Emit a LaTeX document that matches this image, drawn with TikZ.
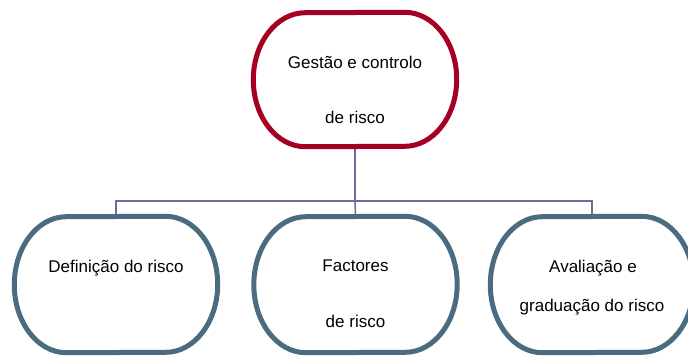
\documentclass[tikz,border=0pt]{standalone}
\usepackage{fontspec}
\setmainfont{Liberation Sans}
\usetikzlibrary{calc}
\definecolor{topred}{HTML}{A50021}
\definecolor{slate}{HTML}{4B6B80}
\definecolor{linkline}{HTML}{6E6AA3}
% outline with elliptical ends around a node: #1 node, #2 style, #3 half height
\newcommand\ovaloutline[3]{%
  \draw[#2] ($(#1.north east)+(-52bp,0)$)
    arc[start angle=90,end angle=-90,x radius=52bp,y radius=#3]
    -- ($(#1.south west)+(52bp,0)$)
    arc[start angle=270,end angle=90,x radius=52bp,y radius=#3]
    -- cycle;}
\begin{document}
\begin{tikzpicture}[x=1bp,y=-1bp,
  topbox/.style={minimum width=203bp,minimum height=134bp,inner sep=0pt},
  subbox/.style={minimum width=203bp,minimum height=136bp,inner sep=0pt},
  redline/.style={draw=topred,line width=5bp,fill=white},
  slateline/.style={draw=slate,line width=5bp,fill=white},
  label/.style={font=\fontsize{17bp}{20bp}\selectfont,anchor=base,inner sep=0pt},
  link/.style={draw=linkline,line width=1.5bp}]
\useasboundingbox (0,0) rectangle (688,356);

% boxes
\node[topbox] (top) at (355,79.5) {};
\node[subbox] (def) at (116,284.5) {};
\node[subbox] (fac) at (355.5,284.5) {};
\node[subbox] (ava) at (592,284.5) {};

% connectors
\coordinate (bar) at (355,201);
\draw[link] (top.south) -- (bar);
\draw[link] (def.north) |- (bar) -| (ava.north);
\draw[link] (bar) -- (fac.north);

% outlines
\ovaloutline{top}{redline}{67bp}
\ovaloutline{def}{slateline}{68bp}
\ovaloutline{fac}{slateline}{68bp}
\ovaloutline{ava}{slateline}{68bp}

% texts
\node[label] (t1) at (355,68) {Gestão e controlo};
\node[label] (t2) at (355,123) {de risco};
\node[label] (d1) at (116,272) {Definição do risco};
\node[label] (f1) at (355.5,271) {Factores};
\node[label] (f2) at (355.5,327) {de risco};
\node[label] (a1) at (593,272) {Avaliação e};
\node[label] (a2) at (592,311) {graduação do risco};
\end{tikzpicture}
\end{document}
